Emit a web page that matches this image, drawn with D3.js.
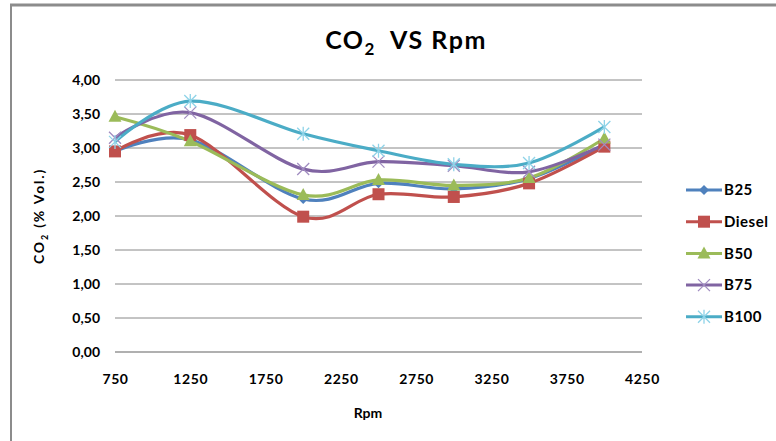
<!DOCTYPE html>
<html>
<head>
<meta charset="utf-8">
<script src="https://cdn.jsdelivr.net/npm/d3@7"></script>
<style>
  body { margin: 0; background: #fff; }
  text { font-family: Lato, "Open Sans", sans-serif; }
</style>
</head>
<body>
<div id="chart"></div>
<script>
// Data
let rpm = [750, 1250, 2000, 2500, 3000, 3500, 4000];
let seriesNames = ["B25", "Diesel", "B50", "B75", "B100"];
let b25    = [2.95, 3.12, 2.25, 2.48, 2.40, 2.55, 3.05];
let diesel = [2.95, 3.19, 1.99, 2.32, 2.28, 2.48, 3.02];
let b50    = [3.46, 3.10, 2.31, 2.53, 2.45, 2.56, 3.14];
let b75    = [3.15, 3.52, 2.69, 2.80, 2.74, 2.65, 3.05];
let b100   = [3.09, 3.69, 3.21, 2.96, 2.76, 2.78, 3.31];
let xTicks = [750, 1250, 1750, 2250, 2750, 3250, 3750, 4250];
let yTicks = [0, 0.5, 1, 1.5, 2, 2.5, 3, 3.5, 4];

let seriesValues = [b25, diesel, b50, b75, b100];
let colors = ["#4F81BD", "#C0504D", "#9BBB59", "#8064A2", "#4BACC6"];
let markerColors = ["#4F81BD", "#C0504D", "#9BBB59", "#A08CC0", "#8ED3E8"];
let markers = ["diamond", "square", "triangle", "cross", "star"];

let W = 776, H = 441;
let margin = {top: 80, left: 115, right: 134, bottom: 89};
let width = W - margin.left - margin.right,
    height = H - margin.top - margin.bottom;

let svg = d3.select("#chart").append("svg")
    .attr("width", W)
    .attr("height", H);

// outer frame (only top and left edges visible)
svg.append("line").attr("x1", 10).attr("x2", W).attr("y1", 5).attr("y2", 5)
    .attr("stroke", "#8c8c8c").attr("stroke-width", 3);
svg.append("line").attr("x1", 11).attr("x2", 11).attr("y1", 4).attr("y2", H)
    .attr("stroke", "#8c8c8c").attr("stroke-width", 2);

let x = d3.scaleLinear().domain([750, 4250]).range([0, width]);
let y = d3.scaleLinear().domain([0, 4]).range([height, 0]);

let g = svg.append("g")
    .attr("transform", "translate(" + margin.left + "," + margin.top + ")");

// gridlines
g.selectAll(".grid")
    .data(yTicks)
    .enter().append("line")
    .attr("x1", 0).attr("x2", width)
    .attr("y1", d => y(d)).attr("y2", d => y(d))
    .attr("stroke", d => d === 0 ? "#b0b0b0" : "#888")
    .attr("stroke-width", d => d === 0 ? 2 : 1);

// Y axis labels
let fmt = d => d3.format(".2f")(d).replace(".", ",");
g.append("g")
    .call(d3.axisLeft(y).tickValues(yTicks).tickFormat(fmt).tickSize(0).tickPadding(15))
    .call(a => a.select(".domain").remove())
    .selectAll("text")
    .style("font-family", "Lato, sans-serif")
    .style("font-size", "14px")
    .style("font-weight", "bold")
    .attr("fill", "#000");

// X axis labels
g.append("g")
    .attr("transform", "translate(0," + height + ")")
    .call(d3.axisBottom(x).tickValues(xTicks).tickFormat(d3.format("d")).tickSize(0).tickPadding(22))
    .call(a => a.select(".domain").remove())
    .selectAll("text")
    .style("font-family", "Lato, sans-serif")
    .style("font-size", "14px")
    .style("font-weight", "bold")
    .attr("letter-spacing", "0.6px")
    .attr("fill", "#000");

// lines
let line = d3.line()
    .x((d, i) => x(rpm[i]))
    .y(d => y(d))
    .curve(d3.curveCardinal.tension(0));

g.selectAll(".series")
    .data(seriesValues)
    .enter().append("path")
    .attr("d", d => line(d))
    .attr("fill", "none")
    .attr("stroke", (d, i) => colors[i])
    .attr("stroke-width", 3.2);

function drawMarker(sel, type, color) {
    if (type === "diamond") {
        sel.append("path").attr("d", "M0,-5L5,0L0,5L-5,0Z").attr("fill", color);
    } else if (type === "square") {
        sel.append("rect").attr("x", -6).attr("y", -6).attr("width", 12).attr("height", 12).attr("fill", color);
    } else if (type === "triangle") {
        sel.append("path").attr("d", "M0,-7L6.5,5L-6.5,5Z").attr("fill", color);
    } else if (type === "cross") {
        sel.append("path").attr("d", "M-6,-6L6,6M-6,6L6,-6")
            .attr("stroke", color).attr("stroke-width", 1.3);
    } else {
        sel.append("path").attr("d", "M-6,-6L6,6M-6,6L6,-6M0,-7L0,7")
            .attr("stroke", color).attr("stroke-width", 1.3);
    }
}

seriesValues.forEach(function(vals, s) {
    vals.forEach(function(v, i) {
        let m = g.append("g").attr("transform", "translate(" + x(rpm[i]) + "," + y(v) + ")");
        drawMarker(m, markers[s], markerColors[s]);
    });
});

// title
let title = svg.append("text")
    .attr("x", 406).attr("y", 49)
    .attr("text-anchor", "middle")
    .attr("letter-spacing", "1.5px")
    .style("font-size", "25px")
    .style("font-weight", "bold")
    .attr("fill", "#000");
title.append("tspan").text("CO");
title.append("tspan").text("2").attr("dy", 6).style("font-size", "17px");
title.append("tspan").text("\u00a0\u00a0VS\u00a0Rpm").attr("dy", -6);

// axis titles
svg.append("text")
    .attr("x", 368).attr("y", 418)
    .attr("text-anchor", "middle")
    .style("font-size", "14px")
    .style("font-weight", "bold")
    .text("Rpm");

let yt = svg.append("text")
    .attr("transform", "translate(44,216) rotate(-90)")
    .attr("text-anchor", "middle")
    .attr("letter-spacing", "1.8px")
    .style("font-size", "14px")
    .style("font-weight", "bold");
yt.append("tspan").text("CO");
yt.append("tspan").text("2").attr("dy", 4).style("font-size", "9px");
yt.append("tspan").text("\u00a0(%\u00a0Vol.)").attr("dy", -4);

// legend
let legend = svg.selectAll(".legend")
    .data(seriesNames)
    .enter().append("g")
    .attr("transform", (d, i) => "translate(686," + (190 + i * 31.7) + ")");
legend.append("line")
    .attr("x1", 0).attr("x2", 36)
    .attr("stroke", (d, i) => colors[i])
    .attr("stroke-width", 3);
legend.each(function(d, i) {
    let m = d3.select(this).append("g").attr("transform", "translate(18,0)");
    drawMarker(m, markers[i], markerColors[i]);
});
legend.append("text")
    .attr("x", 38).attr("dy", "0.35em")
    .attr("letter-spacing", "0.5px")
    .style("font-size", "15px")
    .style("font-weight", "bold")
    .text(d => d);
</script>
</body>
</html>
